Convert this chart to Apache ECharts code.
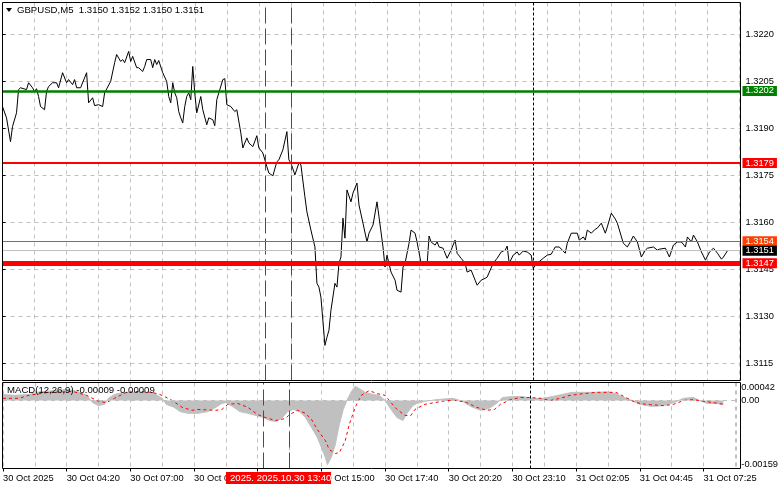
<!DOCTYPE html>
<html><head><meta charset="utf-8">
<script src="https://cdn.jsdelivr.net/npm/echarts@6/dist/echarts.min.js"></script>
<style>html,body{margin:0;padding:0;background:#fff}#c{width:781px;height:489px}</style>
</head><body><div id="c"></div>
<script>
// ---- data (M5 bars, index from the first visible bar) ----
const timeLabels = ['30 Oct 2025','30 Oct 04:20','30 Oct 07:00','30 Oct 09:40','30 Oct 12:20','30 Oct 15:00',
  '30 Oct 17:40','30 Oct 20:20','30 Oct 23:10','31 Oct 02:05','31 Oct 04:45','31 Oct 07:25'];
const barsPerLabel = 32;
const priceTicks = [1.3115,1.3130,1.3145,1.3160,1.3175,1.3190,1.3205,1.3220];
const macdTicks = [-0.00159, 0, 0.00042];

const priceBars = [
  0,2,4,5,7,8,9,12,13,15,
  16,17,18,19,21,22,23,25,27,28,
  30,32,33,35,36,37,39,42,43,45,
  46,48,50,51,54,56,57,59,60,61,
  63,64,65,67,68,70,71,72,74,75,
  76,77,78,80,82,83,84,85,86,87,
  88,89,90,91,92,93,94,95,96,97,
  99,100,102,103,105,106,107,110,111,112,
  114,116,117,119,120,122,123,125,127,128,
  130,132,133,135,137,138,140,142,143,144,
  146,148,149,151,152,154,156,157,158,159,
  161,162,163,164,166,167,168,169,170,171,
  172,174,175,177,178,180,182,183,185,187,
  188,190,191,192,194,196,197,199,200,201,
  203,204,206,207,209,210,212,213,214,216,
  217,218,220,222,224,226,227,229,231,232,
  234,236,237,239,241,242,245,247,249,251,
  252,253,255,257,258,260,262,264,265,267,
  270,272,274,276,278,281,282,284,287,288,
  290,291,292,294,296,297,299,301,302,304,
  306,307,310,312,314,315,317,319,321,322,
  325,327,328,331,333,335,337,339,341,342,
  344,345,347,349,351,353,355,357,359,360,362];
const priceClose = [
  1.31970,1.31934,1.31858,1.31906,1.31950,1.32024,1.32030,1.32024,1.32046,1.32030,
  1.32018,1.32027,1.32002,1.31970,1.31960,1.32018,1.32034,1.32046,1.32046,1.32030,
  1.32078,1.32046,1.32056,1.32040,1.32056,1.32030,1.32030,1.32078,1.31982,1.31998,
  1.31973,1.31976,1.31970,1.32014,1.32050,1.32110,1.32136,1.32114,1.32120,1.32110,
  1.32146,1.32114,1.32130,1.32094,1.32094,1.32082,1.32098,1.32120,1.32120,1.32094,
  1.32120,1.32104,1.32117,1.32078,1.32050,1.32002,1.31982,1.32046,1.32014,1.31998,
  1.31954,1.31934,1.31918,1.31970,1.32002,1.32014,1.31992,1.32098,1.32014,1.31950,
  1.32002,1.31960,1.31912,1.31934,1.31928,1.31909,1.31992,1.32056,1.32059,1.31976,
  1.31970,1.31954,1.31960,1.31886,1.31838,1.31870,1.31854,1.31842,1.31877,1.31838,
  1.31822,1.31778,1.31758,1.31749,1.31794,1.31800,1.31832,1.31890,1.31800,1.31790,
  1.31752,1.31790,1.31784,1.31682,1.31634,1.31576,1.31522,1.31406,1.31394,1.31362,
  1.31208,1.31234,1.31256,1.31320,1.31406,1.31394,1.31470,1.31490,1.31614,1.31550,
  1.31704,1.31666,1.31694,1.31726,1.31656,1.31598,1.31538,1.31566,1.31592,1.31666,
  1.31618,1.31522,1.31458,1.31496,1.31442,1.31416,1.31384,1.31378,1.31458,1.31470,
  1.31534,1.31576,1.31566,1.31538,1.31470,1.31464,1.31464,1.31557,1.31538,1.31528,
  1.31538,1.31522,1.31518,1.31486,1.31512,1.31544,1.31502,1.31486,1.31470,1.31442,
  1.31448,1.31416,1.31400,1.31416,1.31422,1.31426,1.31470,1.31486,1.31506,1.31512,
  1.31525,1.31470,1.31496,1.31506,1.31496,1.31509,1.31506,1.31496,1.31454,1.31470,
  1.31486,1.31496,1.31499,1.31522,1.31522,1.31502,1.31534,1.31566,1.31566,1.31544,
  1.31554,1.31544,1.31576,1.31566,1.31579,1.31582,1.31598,1.31566,1.31586,1.31630,
  1.31611,1.31598,1.31534,1.31522,1.31544,1.31557,1.31538,1.31490,1.31512,1.31518,
  1.31522,1.31512,1.31515,1.31518,1.31490,1.31528,1.31538,1.31538,1.31522,1.31554,
  1.31538,1.31560,1.31538,1.31506,1.31480,1.31506,1.31518,1.31502,1.31483,1.31490,1.31510];

const histBars = [
  0,6,13,18,26,33,38,42,45,48,
  51,53,56,61,68,76,80,82,86,89,
  93,98,103,107,110,112,116,119,123,127,
  131,134,137,140,143,146,149,152,155,158,
  160,162,163,165,167,169,171,173,175,177,
  179,182,186,189,192,195,198,201,203,206,
  208,212,218,226,231,235,240,244,248,251,
  256,261,266,271,276,281,286,291,298,304,
  308,312,316,320,326,332,337,342,347,350,
  354,358,362];
const histVals = [
  0.00014,0.00012,0.00014,0.00020,0.00023,0.00026,0.00020,0.00012,-0.00005,-0.00012,
  -0.00009,0.00005,0.00014,0.00019,0.00019,0.00016,0.00005,-0.00009,-0.00016,-0.00026,
  -0.00030,-0.00030,-0.00026,-0.00016,-0.00007,-0.00005,-0.00016,-0.00026,-0.00030,-0.00035,
  -0.00040,-0.00047,-0.00049,-0.00042,-0.00026,-0.00021,-0.00026,-0.00040,-0.00063,-0.00087,
  -0.00110,-0.00133,-0.00150,-0.00133,-0.00103,-0.00056,-0.00021,0.00002,0.00020,0.00033,
  0.00028,0.00019,0.00014,0.00012,0.00000,-0.00021,-0.00040,-0.00047,-0.00030,-0.00012,
  -0.00007,-0.00002,0.00002,0.00005,-0.00002,-0.00014,-0.00023,-0.00019,-0.00007,0.00007,
  0.00009,0.00009,0.00005,0.00005,0.00009,0.00014,0.00019,0.00019,0.00019,0.00020,
  0.00016,0.00007,0.00000,-0.00009,-0.00014,-0.00012,-0.00005,0.00005,0.00007,0.00000,
  -0.00007,-0.00007,-0.00009];

const sigBars = [
  0,8,13,23,35,42,48,52,56,62,
  68,75,80,85,90,95,98,107,110,113,
  118,123,128,132,137,142,144,148,152,155,
  158,162,164,167,169,172,174,177,180,184,
  188,192,195,198,202,205,207,212,217,223,
  228,233,238,243,247,250,255,260,265,270,
  275,280,285,292,298,308,313,318,323,332,
  337,342,347,352,357,362];
const sigVals = [
  0.00005,0.00005,0.00012,0.00019,0.00021,0.00012,-0.00002,-0.00005,0.00005,0.00019,
  0.00021,0.00019,0.00012,0.00000,-0.00016,-0.00023,-0.00021,-0.00023,-0.00021,-0.00009,
  -0.00007,-0.00016,-0.00033,-0.00040,-0.00047,-0.00042,-0.00033,-0.00023,-0.00030,-0.00044,
  -0.00068,-0.00094,-0.00115,-0.00124,-0.00122,-0.00094,-0.00056,-0.00016,0.00012,0.00023,
  0.00016,0.00012,-0.00005,-0.00021,-0.00035,-0.00035,-0.00021,-0.00009,-0.00005,0.00000,
  0.00000,-0.00005,-0.00016,-0.00023,-0.00021,-0.00009,0.00002,0.00007,0.00007,0.00005,
  0.00000,0.00005,0.00012,0.00016,0.00019,0.00019,0.00007,-0.00005,-0.00009,-0.00012,
  -0.00009,0.00000,0.00002,-0.00002,-0.00005,-0.00009];

// horizontal levels
const levelValues = [1.3202, 1.3179, 1.3154, 1.3151, 1.3147];
const verticalBars = [131, 144];   // red dashed event lines
const daySeparatorBar = 265;

// ---- styles ----
const levelLineColors = ['#008000','#ff0000','#ff4000','#c0c0c0','#ff0000'];
const levelTagColors  = ['#008000','#ff0000','#ff4000','#000000','#ff0000'];
const levelWidths = [2.5, 2, 1, 1, 5];
const FONT = '"Liberation Sans", Arial, sans-serif';
const FS = 9.3;
const X_MAX = 368.5;
const P_MIN = 1.31096, P_MAX = 1.32302;
const M_MIN = -0.00159, M_MAX = 0.00042;

const labelBars = timeLabels.map((_, i) => i * barsPerLabel);
const gridLine = {show: true, lineStyle: {color: '#c0c0c0', type: [4, 4], width: 1}};

const chart = echarts.init(document.getElementById('c'), null, {renderer: 'canvas'});

const vLines = () => verticalBars.map(b => ({xAxis: b, lineStyle: {color: '#ff0000', width: 1, type: [16, 5]}, label: {show: false}}))
  .concat([{xAxis: daySeparatorBar, lineStyle: {color: '#000', width: 1, type: [3, 2]}, label: {show: false}}]);

const levelLines = levelValues.map((v, i) => ({
  yAxis: v,
  lineStyle: {color: levelLineColors[i], width: levelWidths[i], type: 'solid'},
  label: {show: true, position: 'end', formatter: v.toFixed(4), backgroundColor: levelTagColors[i],
    color: '#fff', padding: [1, 3, 0, 3], distance: 2, fontSize: FS, fontFamily: FONT}
}));

chart.setOption({
  animation: false,
  backgroundColor: '#fff',
  textStyle: {fontFamily: FONT},
  grid: [
    {left: 2.5, right: 40.5, top: 2.5, height: 378, show: false},
    {left: 2.5, right: 40.5, top: 382.5, bottom: 20.5, show: false}
  ],
  xAxis: [
    {type: 'value', gridIndex: 0, min: 0, max: X_MAX, interval: 16, axisLine: {show: false}, axisTick: {show: false}, axisLabel: {show: false}, splitLine: gridLine},
    {type: 'value', gridIndex: 1, min: 0, max: X_MAX, interval: 16, axisLine: {show: false}, axisTick: {show: false}, axisLabel: {show: false}, splitLine: gridLine},
    {type: 'value', gridIndex: 1, min: 0, max: X_MAX, position: 'bottom',
      axisLine: {show: false},
      axisTick: {show: true, customValues: labelBars, length: 3, lineStyle: {color: '#000'}},
      axisLabel: {show: true, customValues: labelBars, formatter: v => timeLabels[Math.round(v / barsPerLabel)] || '',
        align: 'left', margin: 5, fontSize: FS, color: '#000', fontFamily: FONT},
      splitLine: {show: false}}
  ],
  yAxis: [
    {type: 'value', gridIndex: 0, position: 'right', min: P_MIN, max: P_MAX,
      axisLine: {show: false},
      axisTick: {show: true, customValues: priceTicks, length: 3, lineStyle: {color: '#000'}},
      axisLabel: {customValues: priceTicks, formatter: v => v.toFixed(4), margin: 5, fontSize: FS, color: '#000', fontFamily: FONT},
      splitLine: gridLine},
    {type: 'value', gridIndex: 1, position: 'right', min: M_MIN, max: M_MAX,
      axisLine: {show: false},
      axisTick: {show: true, customValues: macdTicks, length: 3, lineStyle: {color: '#000'}},
      axisLabel: {customValues: macdTicks, formatter: v => (v === 0 ? '0.00' : v.toFixed(5)), margin: 5, fontSize: FS, color: '#000', fontFamily: FONT,
        verticalAlignMinLabel: 'bottom', verticalAlignMaxLabel: 'top'},
      splitLine: {show: false}}
  ],
  series: [
    {type: 'line', name: 'GBPUSD', xAxisIndex: 0, yAxisIndex: 0, data: priceBars.map((b, i) => [b, priceClose[i]]),
      symbol: 'none', lineStyle: {color: '#000', width: 1}, z: 3,
      markLine: {symbol: 'none', silent: true, animation: false, precision: 6, data: vLines().concat(levelLines)}},
    {type: 'line', name: 'MACD', xAxisIndex: 1, yAxisIndex: 1, data: histBars.map((b, i) => [b, histVals[i]]),
      symbol: 'none', lineStyle: {color: '#c0c0c0', width: 1}, areaStyle: {color: '#c0c0c0', opacity: 1, origin: 0}, z: 2,
      markLine: {symbol: 'none', silent: true, animation: false, precision: 6,
        data: vLines().concat([{yAxis: 0, lineStyle: {color: '#c0c0c0', width: 1, type: [4, 4]}, label: {show: false}}])}},
    {type: 'line', name: 'Signal', xAxisIndex: 1, yAxisIndex: 1, data: sigBars.map((b, i) => [b, sigVals[i]]),
      symbol: 'none', lineStyle: {color: '#ff0000', width: 1, type: [3, 3]}, z: 4}
  ],
  graphic: [
    {type: 'rect', shape: {x: 2.5, y: 2.5, width: 738, height: 378}, style: {fill: 'none', stroke: '#000', lineWidth: 1}, z: 30, silent: true},
    {type: 'rect', shape: {x: 2.5, y: 382.5, width: 738, height: 86}, style: {fill: 'none', stroke: '#000', lineWidth: 1}, z: 30, silent: true},
    {type: 'polygon', shape: {points: [[6, 8], [12, 8], [9, 12]]}, style: {fill: '#000'}, z: 10},
    {type: 'text', left: 17, top: 5, style: {text: 'GBPUSD,M5  1.3150 1.3152 1.3150 1.3151', fill: '#000', font: '9.6px ' + FONT}, z: 10},
    {type: 'text', left: 7, top: 385, style: {text: 'MACD(12,26,9) -0.00009 -0.00009', fill: '#000', font: '9.6px ' + FONT}, z: 10},
    {type: 'rect', shape: {x: 226, y: 472, width: 105, height: 12}, style: {fill: '#ff0000'}, z: 20},
    {type: 'text', left: 230, top: 473, style: {text: '2025. 2025.10.30 13:40', fill: '#fff', font: '9.6px ' + FONT}, z: 21}
  ]
});
</script></body></html>
